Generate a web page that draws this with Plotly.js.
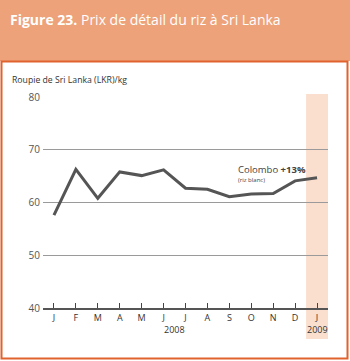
<!DOCTYPE html>
<html>
<head>
<meta charset="utf-8">
<script src="https://cdn.plot.ly/plotly-3.0.1.min.js"></script>
<style>
html,body{margin:0;padding:0;background:#fff;}
#chart{width:350px;height:361px;}
</style>
</head>
<body>
<div id="chart"></div>
<script>
const months = ['J','F','M','A','M','J','J','A','S','O','N','D','J'];
const colombo = [57.6, 66.3, 60.8, 65.8, 65.1, 66.2, 62.7, 62.5, 61.1, 61.6, 61.7, 64.1, 64.7];
const yTicks = [40, 50, 60, 70, 80];
const years = ['2008', '2009'];

const idx = months.map((m, i) => i);
const FONT = '"Open Sans", "Noto Sans", sans-serif';

// plot area pixels: l=43, r=328, t=97, b=308
const L = 43, R = 328, T = 97, B = 308;
const PW = R - L, PH = B - T;
const px = v => (v - L) / PW;
const py = v => (B - v) / PH;

const trace = {
  x: idx,
  y: colombo,
  type: 'scatter',
  mode: 'lines',
  line: {color: '#555555', width: 3},
  hoverinfo: 'skip'
};

const layout = {
  width: 350, height: 361,
  margin: {l: L, r: 350 - R, t: T, b: 361 - B, pad: 0},
  paper_bgcolor: '#ffffff',
  plot_bgcolor: 'rgba(0,0,0,0)',
  showlegend: false,
  font: {family: FONT, color: '#333'},
  title: {
    text: '<b>Figure 23.</b> Prix de détail du riz à Sri Lanka',
    font: {family: FONT, size: 14, color: '#ffffff'},
    xref: 'container', yref: 'container',
    x: 10 / 350, xanchor: 'left',
    y: 1 - 20 / 361, yanchor: 'middle'
  },
  xaxis: {
    range: [-0.5, 12.5],
    tickvals: idx,
    ticktext: months,
    ticks: 'inside', ticklen: 5, tickwidth: 1, tickcolor: '#444',
    showgrid: false, zeroline: false,
    showline: true, linecolor: '#555', linewidth: 2,
    tickfont: {family: FONT, size: 9, color: '#333'},
    fixedrange: true
  },
  yaxis: {
    range: [40, 80],
    tickvals: yTicks,
    ticks: 'outside', ticklen: 0,
    showgrid: true, gridcolor: '#9a9a9a', gridwidth: 1,
    zeroline: false, showline: false,
    tickfont: {family: FONT, size: 10, color: '#555'},
    fixedrange: true
  },
  shapes: [
    // header band
    {type: 'rect', xref: 'paper', yref: 'paper', layer: 'below',
     x0: px(0), x1: px(350), y0: py(61), y1: py(0),
     fillcolor: '#EDA27A', line: {width: 0}},
    // frame
    {type: 'rect', xref: 'paper', yref: 'paper', layer: 'above',
     x0: px(1.5), x1: px(347.5), y0: py(358.5), y1: py(61.5),
     fillcolor: 'rgba(0,0,0,0)', line: {color: '#E0622C', width: 2}},
    // shaded 2009 band
    {type: 'rect', xref: 'x', yref: 'paper', layer: 'below',
     x0: 11.5, x1: 12.55, y0: py(339), y1: py(94),
     fillcolor: '#FADFCE', line: {width: 0}}
  ],
  annotations: [
    {text: 'Roupie de Sri Lanka (LKR)/kg', xref: 'paper', yref: 'paper',
     x: px(10), y: py(80), xanchor: 'left', yanchor: 'middle', showarrow: false,
     font: {family: FONT, size: 8.7, color: '#333'}},
    {text: 'Colombo <b>+13%</b>', xref: 'x', yref: 'y',
     x: 8.3, y: 66.2, xanchor: 'left', yanchor: 'middle', showarrow: false,
     font: {family: FONT, size: 9.5, color: '#444'}},
    {text: '(riz blanc)', xref: 'x', yref: 'y',
     x: 8.3, y: 64.3, xanchor: 'left', yanchor: 'middle', showarrow: false,
     font: {family: FONT, size: 6, color: '#444'}},
    {text: years[0], xref: 'x', yref: 'paper',
     x: 5.5, y: py(329), xanchor: 'center', yanchor: 'middle', showarrow: false,
     font: {family: FONT, size: 9, color: '#333'}},
    {text: years[1], xref: 'x', yref: 'paper',
     x: 12, y: py(329), xanchor: 'center', yanchor: 'middle', showarrow: false,
     font: {family: FONT, size: 9, color: '#333'}}
  ]
};

Plotly.newPlot('chart', [trace], layout, {displayModeBar: false, staticPlot: true});
</script>
</body>
</html>
